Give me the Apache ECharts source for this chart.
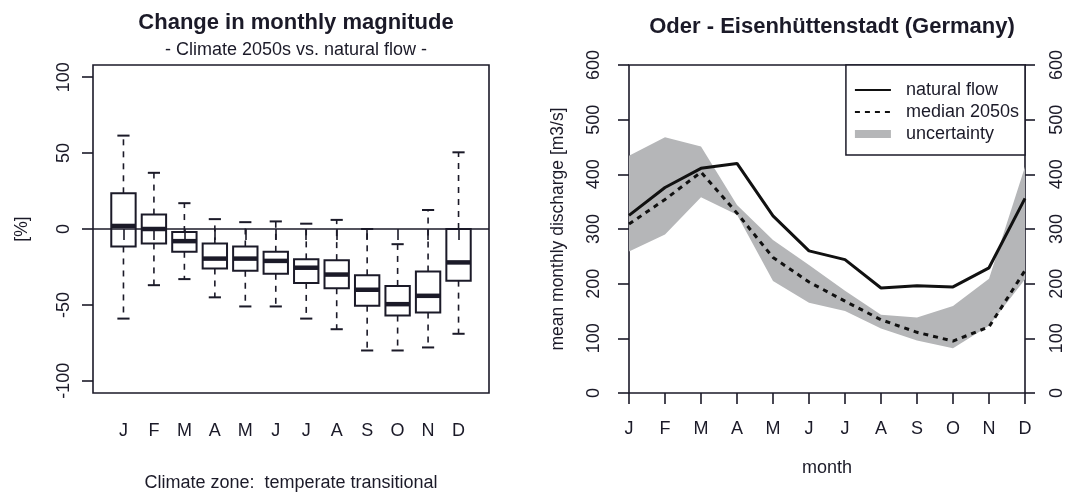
<!DOCTYPE html>
<html>
<head>
<meta charset="utf-8">
<script src="https://cdn.jsdelivr.net/npm/echarts@6/dist/echarts.min.js"></script>
<style>
html,body{margin:0;padding:0;background:#fff;}
#chart{width:1065px;height:492px;}
</style>
</head>
<body>
<div id="chart"></div>
<script>
// ---- data ----
var months = ['J','F','M','A','M','J','J','A','S','O','N','D'];
var monthPos = [1,2,3,4,5,6,7,8,9,10,11,12];
// Left panel: change in monthly magnitude [%] (boxplot statistics)
var whiskerLow  = [-59, -37, -33, -45, -51, -51, -59, -66, -80, -80, -78, -69];
var quart1      = [-11.5, -9.5, -15, -26, -27.5, -29.5, -35.5, -39, -50.5, -57, -55, -34];
var medianChg   = [2, 0, -8, -19.5, -19.5, -21, -25.5, -30, -40, -49.5, -44, -22];
var quart3      = [23.5, 9.5, -2, -9.5, -11.5, -15, -20, -20.5, -30.5, -37.5, -28, 0];
var whiskerHigh = [61.5, 37, 17, 6.5, 4.5, 5, 3.5, 6, 0, -10, 12.5, 50.5];
var pctTicks = [-100, -50, 0, 50, 100];
// Right panel: mean monthly discharge [m3/s]
var naturalFlow = [325, 376, 411, 420, 324, 260, 244, 192, 196, 194, 229, 356];
var median2050s = [309, 354, 404, 329, 248, 203, 168, 134, 111, 95, 121, 224];
var uncertUpper = [434, 468, 451, 344, 280, 234, 187, 143, 138, 159, 209, 414];
var uncertLower = [259, 290, 358, 326, 205, 165, 150, 118, 96, 82, 123, 208];

// ---- styles ----
var INK = '#1b1a28';
var FONT = "'Liberation Sans', Arial, Helvetica, sans-serif";
var GREY = '#b5b6b8';

var boxData = monthPos.map(function (p, i) {
  return [p, whiskerLow[i], quart1[i], medianChg[i], quart3[i], whiskerHigh[i]];
});
var bandDiff = uncertUpper.map(function (u, i) { return u - uncertLower[i]; });

function renderBox(params, api) {
  var x = api.value(0);
  var lo = api.value(1), q1 = api.value(2), med = api.value(3), q3 = api.value(4), hi = api.value(5);
  var w = api.size([0.8, 0])[0];
  var hw = w / 2, cw = w / 4;
  var cx = api.coord([x, q3])[0];
  var yq3 = api.coord([x, q3])[1];
  var yq1 = api.coord([x, q1])[1];
  var ymed = api.coord([x, med])[1];
  var ylo = api.coord([x, lo])[1];
  var yhi = api.coord([x, hi])[1];
  var dash = {stroke: INK, lineWidth: 1.6, lineDash: [6, 6]};
  var solid = {stroke: INK, lineWidth: 2};
  return {
    type: 'group',
    children: [
      {type: 'line', shape: {x1: cx, y1: yq3, x2: cx, y2: yhi}, style: dash},
      {type: 'line', shape: {x1: cx, y1: yq1, x2: cx, y2: ylo}, style: dash},
      {type: 'line', shape: {x1: cx - cw, y1: yhi, x2: cx + cw, y2: yhi}, style: solid},
      {type: 'line', shape: {x1: cx - cw, y1: ylo, x2: cx + cw, y2: ylo}, style: solid},
      {type: 'rect', shape: {x: cx - hw, y: yq3, width: w, height: yq1 - yq3}, style: {fill: 'none', stroke: INK, lineWidth: 2}},
      {type: 'line', shape: {x1: cx - hw, y1: ymed, x2: cx + hw, y2: ymed}, style: {stroke: INK, lineWidth: 4.5}}
    ]
  };
}

var chart = echarts.init(document.getElementById('chart'), null, {renderer: 'canvas'});
var labelStyle = {color: INK, fontFamily: FONT, fontSize: 18};
var hiddenSymbol = {opacity: 0, color: 'rgba(0,0,0,0)', borderWidth: 0};

var option = {
  backgroundColor: '#fff',
  animation: false,
  textStyle: {fontFamily: FONT, color: INK},
  title: [
    {text: 'Change in monthly magnitude', left: 291, top: 7, textAlign: 'center',
     textStyle: {fontFamily: FONT, fontSize: 22, fontWeight: 'bold', color: INK}},
    {text: '- Climate 2050s vs. natural flow -', left: 291, top: 36, textAlign: 'center',
     textStyle: {fontFamily: FONT, fontSize: 18, fontWeight: 'normal', color: INK}},
    {text: 'Oder - Eisenhüttenstadt (Germany)', left: 827, top: 11, textAlign: 'center',
     textStyle: {fontFamily: FONT, fontSize: 22, fontWeight: 'bold', color: INK}}
  ],
  legend: {
    show: true,
    orient: 'vertical',
    right: 40,
    top: 65,
    padding: [16, 6, 12, 5],
    itemWidth: 36,
    itemHeight: 14,
    itemGap: 4,
    backgroundColor: '#fff',
    borderColor: INK,
    borderWidth: 1.5,
    borderRadius: 0,
    textStyle: {fontFamily: FONT, fontSize: 18, color: INK, padding: [0, 0, 0, 10]},
    data: [
      {name: 'natural flow', itemStyle: hiddenSymbol},
      {name: 'median 2050s', itemStyle: hiddenSymbol},
      {name: 'uncertainty', lineStyle: {color: GREY, width: 8, opacity: 1}, itemStyle: hiddenSymbol}
    ]
  },
  grid: [
    {left: 93, top: 65, width: 396, height: 328, show: true, borderColor: INK, borderWidth: 1.6,
     backgroundColor: 'transparent', containLabel: false, outerBoundsMode: 'none'},
    {left: 629, top: 65, width: 396, height: 328, show: true, borderColor: INK, borderWidth: 1.6,
     backgroundColor: 'transparent', containLabel: false, outerBoundsMode: 'none'}
  ],
  xAxis: [
    {type: 'value', gridIndex: 0, min: 0, max: 13,
     name: 'Climate zone:  temperate transitional', nameLocation: 'middle', nameGap: 81,
     nameTextStyle: {fontFamily: FONT, fontSize: 18, color: INK},
     axisLine: {show: false}, splitLine: {show: false},
     axisTick: {show: true, length: 11, customValues: monthPos, lineStyle: {color: INK, width: 1.6}},
     axisLabel: Object.assign({margin: 29, customValues: monthPos,
       formatter: function (v) { return months[Math.round(v) - 1] || ''; }}, labelStyle)},
    {type: 'category', gridIndex: 1, data: months, boundaryGap: false,
     name: 'month', nameLocation: 'middle', nameGap: 66,
     nameTextStyle: {fontFamily: FONT, fontSize: 18, color: INK},
     axisLine: {show: false}, splitLine: {show: false},
     axisTick: {show: true, length: 11, alignWithLabel: true, interval: 0, lineStyle: {color: INK, width: 1.6}},
     axisLabel: Object.assign({margin: 27, interval: 0}, labelStyle)}
  ],
  yAxis: [
    {type: 'value', gridIndex: 0, min: -108, max: 108,
     name: '[%]', nameLocation: 'middle', nameGap: 62, nameRotate: 90,
     nameTextStyle: {fontFamily: FONT, fontSize: 17.5, color: INK},
     axisLine: {show: false}, splitLine: {show: false},
     axisTick: {show: true, length: 11, customValues: pctTicks, lineStyle: {color: INK, width: 1.6}},
     axisLabel: Object.assign({margin: 20, rotate: 90, customValues: pctTicks}, labelStyle)},
    {type: 'value', gridIndex: 1, min: 0, max: 600, interval: 100, position: 'left',
     name: 'mean monthly discharge [m3/s]', nameLocation: 'middle', nameGap: 62, nameRotate: 90,
     nameTextStyle: {fontFamily: FONT, fontSize: 17.5, color: INK},
     axisLine: {show: false}, splitLine: {show: false},
     axisTick: {show: true, length: 11, lineStyle: {color: INK, width: 1.6}},
     axisLabel: Object.assign({margin: 26, rotate: 90}, labelStyle)},
    {type: 'value', gridIndex: 1, min: 0, max: 600, interval: 100, position: 'right',
     axisLine: {show: false}, splitLine: {show: false},
     axisTick: {show: true, length: 10, lineStyle: {color: INK, width: 1.6}},
     axisLabel: Object.assign({margin: 23, rotate: 90}, labelStyle)}
  ],
  series: [
    {
      name: 'change', type: 'custom', xAxisIndex: 0, yAxisIndex: 0,
      renderItem: renderBox, data: boxData, encode: {x: 0, y: [1, 2, 3, 4, 5]},
      silent: true,
      markLine: {silent: true, symbol: ['none', 'none'], label: {show: false},
        lineStyle: {color: INK, type: 'solid', width: 1.6}, data: [{yAxis: 0}]}
    },
    {
      name: 'lower', type: 'line', xAxisIndex: 1, yAxisIndex: 1, stack: 'band',
      data: uncertLower, symbol: 'none', lineStyle: {width: 0, opacity: 0}, silent: true
    },
    {
      name: 'uncertainty', type: 'line', xAxisIndex: 1, yAxisIndex: 1, stack: 'band',
      data: bandDiff, symbol: 'none', lineStyle: {width: 0, opacity: 0, color: GREY},
      itemStyle: {color: GREY}, areaStyle: {color: GREY, opacity: 1}, silent: true
    },
    {
      name: 'natural flow', type: 'line', xAxisIndex: 1, yAxisIndex: 1,
      data: naturalFlow, symbol: 'none', lineStyle: {color: '#111', width: 3, type: 'solid'},
      itemStyle: {color: '#111'}
    },
    {
      name: 'median 2050s', type: 'line', xAxisIndex: 1, yAxisIndex: 1,
      data: median2050s, symbol: 'none', lineStyle: {color: '#111', width: 3, type: [5, 5], cap: 'butt'},
      itemStyle: {color: '#111'}
    }
  ]
};
chart.setOption(option);
</script>
</body>
</html>
